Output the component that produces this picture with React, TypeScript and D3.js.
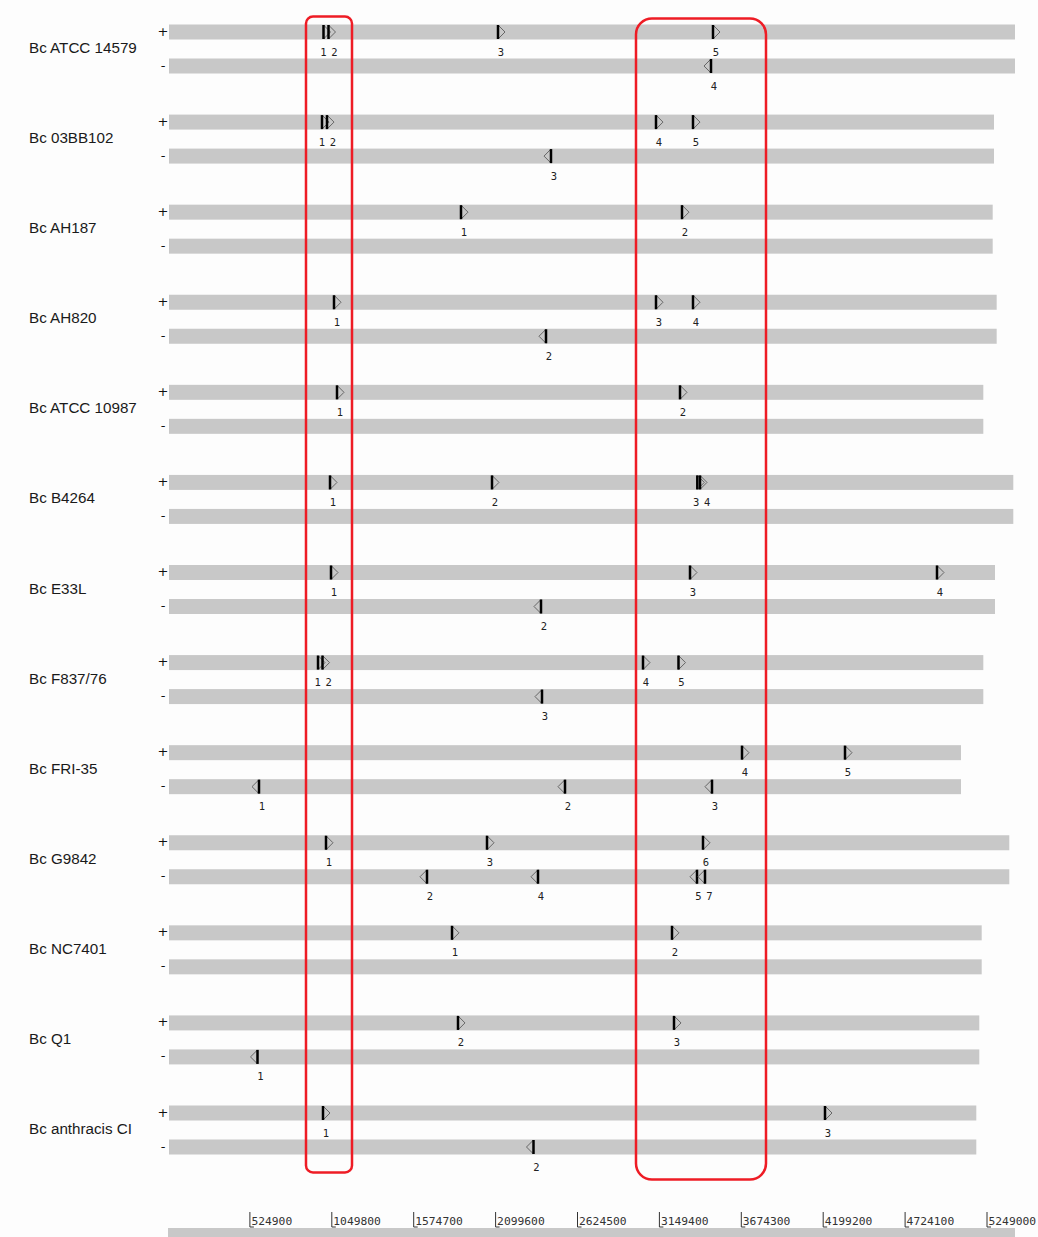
import React from "react";
import * as d3 from "d3";

// Strains, top to bottom
const genomes = [
  "Bc ATCC 14579",
  "Bc 03BB102",
  "Bc AH187",
  "Bc AH820",
  "Bc ATCC 10987",
  "Bc B4264",
  "Bc E33L",
  "Bc F837/76",
  "Bc FRI-35",
  "Bc G9842",
  "Bc NC7401",
  "Bc Q1",
  "Bc anthracis CI",
];

// Chromosome length of each strain (bp)
const genomeLengths = [
  5428400, 5293800, 5285500, 5311100, 5225300, 5417500, 5300200, 5225300,
  5082300, 5391900, 5215000, 5199600, 5180400,
];

// Gene hits: [strain index, gene number, strand, start (bp)]
type Gene = [number, number, "+" | "-", number];
const genes: Gene[] = [
  [0, 1, "+", 996600], [0, 2, "+", 1028600], [0, 3, "+", 2115000], [0, 4, "-", 3480100], [0, 5, "+", 3492900],
  [1, 1, "+", 987000], [1, 2, "+", 1019000], [1, 3, "-", 2454600], [1, 4, "+", 3127600], [1, 5, "+", 3364700],
  [2, 1, "+", 1877800], [2, 2, "+", 3294200],
  [3, 1, "+", 1063900], [3, 2, "-", 2422600], [3, 3, "+", 3127600], [3, 4, "+", 3364700],
  [4, 1, "+", 1083100], [4, 2, "+", 3281400],
  [5, 1, "+", 1038300], [5, 2, "+", 2076500], [5, 3, "+", 3392300], [5, 4, "+", 3409600],
  [6, 1, "+", 1044700], [6, 2, "-", 2390600], [6, 3, "+", 3345500], [6, 4, "+", 4928500],
  [7, 1, "+", 961400], [7, 2, "+", 990200], [7, 3, "-", 2397000], [7, 4, "+", 3044300], [7, 5, "+", 3271800],
  [8, 1, "-", 583200], [8, 2, "-", 2544400], [8, 3, "-", 3486500], [8, 4, "+", 3678800], [8, 5, "+", 4338900],
  [9, 1, "+", 1012600], [9, 2, "-", 1659900], [9, 3, "+", 2044500], [9, 4, "-", 2371300], [9, 5, "-", 3390400], [9, 6, "+", 3428800], [9, 7, "-", 3441600],
  [10, 1, "+", 1820200], [10, 2, "+", 3230100],
  [11, 1, "-", 573600], [11, 2, "+", 1858600], [11, 3, "+", 3243000],
  [12, 1, "+", 993400], [12, 2, "-", 2342500], [12, 3, "+", 4210700],
];

// Ruler ticks (bp)
const tickValues = [
  524900, 1049800, 1574700, 2099600, 2624500, 3149400, 3674300, 4199200, 4724100, 5249000,
];

// Highlighted genomic windows (bp) with corner radius
const highlightRanges: [number, number, number][] = [
  [884400, 1179300, 7],
  [2999400, 3832600, 16],
];

const W = 1038;
const H = 1237;
const BAR_H = 15;
const STRAND_GAP = 34;
const LABEL_GAP = 11;

const x = d3.scaleLinear().domain([0, 5249000]).range([168, 987]);
const rowY = d3.scaleLinear().domain([0, genomes.length - 1]).range([32, 1113]);
const strandY = (row: number, strand: "+" | "-") =>
  rowY(row) + (strand === "-" ? STRAND_GAP : 0);

// Spread overlapping number labels apart along one strand
function layoutLabels(items: { want: number; key: string; text: number }[]) {
  const sorted = [...items].sort((a, b) => a.want - b.want);
  const clusters: (typeof sorted)[] = [];
  sorted.forEach((it) => {
    const last = clusters[clusters.length - 1];
    if (last && it.want - last[last.length - 1].want < LABEL_GAP) last.push(it);
    else clusters.push([it]);
  });
  const out: { x: number; key: string; text: number }[] = [];
  clusters.forEach((c) => {
    const mean = d3.mean(c, (d) => d.want) as number;
    c.forEach((d, i) =>
      out.push({ x: mean + (i - (c.length - 1) / 2) * LABEL_GAP, key: d.key, text: d.text })
    );
  });
  return out;
}

export default function App() {
  const axisTop = 1212;
  const axisBarY = 1228;
  const maxLen = d3.max(genomeLengths) as number;

  const labels: { x: number; y: number; key: string; text: number }[] = [];
  genomes.forEach((_, row) => {
    (["+", "-"] as const).forEach((strand) => {
      const items = genes
        .filter((g) => g[0] === row && g[2] === strand)
        .map((g) => ({ want: x(g[3]) + 3, key: `${row}-${g[1]}`, text: g[1] }));
      layoutLabels(items).forEach((l) =>
        labels.push({ ...l, y: strandY(row, strand) + 23.5 })
      );
    });
  });

  const firstTop = strandY(0, "+") - BAR_H / 2;
  const lastBottom = strandY(genomes.length - 1, "-") + BAR_H / 2;

  return (
    <svg
      width={W}
      height={H}
      style={{ position: "absolute", left: 0, top: 0, display: "block", background: "#fdfdfd" }}
    >
      <rect x={0} y={0} width={W} height={H} fill="#fdfdfd" />

      {genomes.map((name, row) => (
        <g key={name}>
          <text
            x={29}
            y={(strandY(row, "+") + strandY(row, "-")) / 2 - 1.5}
            dominantBaseline="central"
            fontFamily="'Liberation Sans', Arial, sans-serif"
            fontSize={15.2}
            fill="#1a1a1a"
          >
            {name}
          </text>
          {(["+", "-"] as const).map((strand) => (
            <g key={strand}>
              <text
                x={163}
                y={strandY(row, strand) - 1}
                textAnchor="middle"
                dominantBaseline="central"
                fontFamily="'DejaVu Sans', sans-serif"
                fontSize={13}
                fill="#111"
              >
                {strand}
              </text>
              <rect
                x={x(0) + 1}
                y={strandY(row, strand) - BAR_H / 2}
                width={x(genomeLengths[row]) - x(0) - 1}
                height={BAR_H}
                fill="#c8c8c8"
              />
            </g>
          ))}
        </g>
      ))}

      {genes.map(([row, n, strand, pos]) => {
        const x0 = x(pos);
        const cy = strandY(row, strand);
        const dir = strand === "+" ? 1 : -1;
        const tri = `M${x0},${cy - 7} L${x0 + dir * 7},${cy} L${x0},${cy + 7}`;
        return (
          <g key={`${row}-${n}`}>
            <path d={tri} fill="none" stroke="#666" strokeWidth={1} />
            <line x1={x0} x2={x0} y1={cy - 7} y2={cy + 7} stroke="#000" strokeWidth={2.5} />
          </g>
        );
      })}

      {labels.map((l) => (
        <text
          key={l.key}
          x={l.x}
          y={l.y}
          textAnchor="middle"
          fontFamily="'DejaVu Sans Mono', monospace"
          fontSize={10.5}
          fill="#222"
        >
          {l.text}
        </text>
      ))}

      {highlightRanges.map(([a, b, r], i) => (
        <rect
          key={i}
          x={x(a)}
          y={firstTop - 8 + i * 2}
          width={x(b) - x(a)}
          height={lastBottom - firstTop + 26 + i * 5}
          rx={r}
          ry={r}
          fill="none"
          stroke="#ee1c25"
          strokeWidth={2.5}
        />
      ))}

      {tickValues.map((t) => (
        <g key={t}>
          <path
            d={`M${x(t)},${axisTop} V${axisTop + 15} H${x(t) + 4}`}
            fill="none"
            stroke="#333"
            strokeWidth={1}
          />
          <text
            x={x(t) + 1.5}
            y={axisTop + 12.5}
            fontFamily="'DejaVu Sans Mono', monospace"
            fontSize={11.3}
            fill="#333"
          >
            {t}
          </text>
        </g>
      ))}
      <rect x={x(0)} y={axisBarY} width={x(maxLen) - x(0)} height={BAR_H} fill="#c8c8c8" />
    </svg>
  );
}
